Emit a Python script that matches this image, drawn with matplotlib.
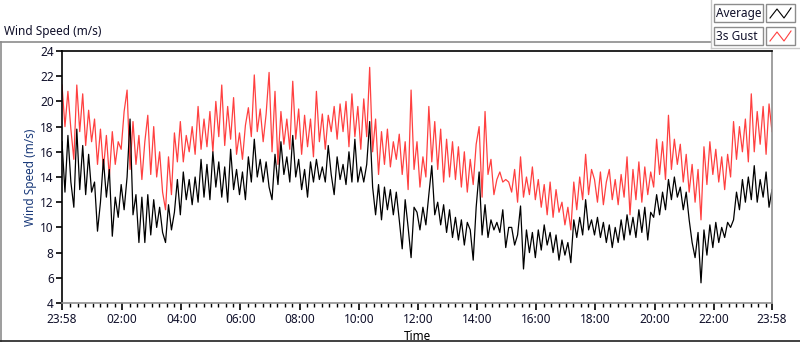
import numpy as np
import matplotlib
matplotlib.use("Agg")
from matplotlib import pyplot as plt
from matplotlib.patches import Rectangle
from matplotlib.lines import Line2D

# values, one every 6 minutes from 23:58
STEP_MIN = 6

gust = [
    21.3, 18.0, 20.8, 17.8, 15.4, 21.3, 17.6, 20.6, 16.5, 19.3, 16.8, 18.6, 15.0, 17.8, 14.6, 17.3, 14.0, 17.6, 15.0, 16.8,
    16.2, 19.2, 20.9, 14.6, 18.4, 15.0, 17.3, 13.8, 16.8, 18.9, 14.2, 18.0, 14.0, 16.0, 12.8, 11.4, 15.6, 12.6, 17.5, 15.2,
    18.4, 15.2, 17.3, 16.0, 18.0, 15.8, 19.6, 16.2, 18.6, 16.4, 19.2, 16.0, 20.0, 17.2, 21.3, 16.5, 19.6, 17.0, 20.3, 15.8,
    17.5, 15.4, 18.1, 19.5, 17.2, 22.1, 17.6, 19.4, 16.8, 19.0, 22.3, 16.0, 20.8, 15.0, 19.2, 16.6, 18.6, 16.2, 21.6, 17.0,
    19.4, 15.8, 18.9, 16.4, 18.6, 15.6, 20.8, 16.8, 19.0, 16.2, 18.9, 17.6, 19.6, 17.0, 19.8, 17.6, 20.0, 16.4, 20.6, 17.2,
    19.6, 16.2, 20.2, 17.2, 22.7, 16.0, 18.6, 14.2, 17.6, 15.0, 17.8, 14.8, 16.8, 15.4, 17.4, 14.2, 16.8, 13.0, 20.9, 14.6,
    16.8, 13.2, 15.6, 14.0, 19.6, 15.2, 18.4, 14.6, 17.8, 13.6, 17.0, 14.0, 16.8, 13.8, 16.4, 13.2, 16.0, 12.8, 15.4, 13.4,
    16.6, 18.0, 12.4, 19.2, 14.2, 15.4, 12.6, 13.8, 14.4, 13.6, 13.8, 13.6, 12.8, 14.6, 12.0, 15.6, 12.4, 14.0, 12.6, 14.8,
    12.2, 13.8, 11.6, 13.4, 11.0, 13.6, 10.8, 13.0, 11.2, 12.0, 10.2, 11.6, 9.8, 13.6, 11.4, 14.0, 12.2, 15.8, 12.6, 14.6,
    13.8, 12.0, 14.4, 11.8, 13.6, 14.6, 12.2, 13.8, 11.8, 14.2, 12.4, 15.6, 11.0, 14.6, 12.2, 15.2, 12.0, 14.8, 12.6, 14.4,
    13.2, 17.0, 14.2, 16.8, 13.8, 18.9, 14.6, 17.0, 15.0, 16.6, 13.6, 15.8, 12.8, 15.0, 12.0, 14.6, 10.6, 16.4, 13.4, 16.8,
    14.2, 16.2, 13.6, 15.6, 13.0, 15.8, 14.0, 18.4, 15.4, 18.0, 16.0, 18.6, 15.2, 20.6, 16.0, 19.2, 16.6, 19.6, 15.8, 19.8, 17.6,
]

average = [
    16.8, 12.8, 17.3, 13.6, 11.6, 17.8, 13.0, 16.5, 12.6, 15.8, 12.8, 13.6, 9.7, 12.0, 15.4, 12.4, 14.6, 9.3, 12.4, 10.8,
    13.4, 11.4, 14.0, 18.6, 11.0, 12.6, 8.8, 12.4, 8.8, 12.6, 9.4, 12.2, 10.0, 11.6, 9.6, 8.8, 11.8, 9.8, 11.2, 13.8,
    11.0, 14.4, 12.2, 13.8, 11.8, 14.0, 12.0, 15.4, 12.4, 15.0, 12.2, 16.0, 13.2, 15.2, 12.4, 14.8, 12.0, 16.2, 13.0, 14.6,
    12.6, 14.4, 12.2, 15.6, 13.6, 17.0, 14.0, 15.4, 13.6, 15.2, 13.2, 12.2, 15.8, 13.4, 16.8, 14.2, 15.6, 13.6, 17.3, 14.0,
    15.4, 13.0, 14.6, 12.4, 15.2, 13.6, 15.4, 13.8, 14.8, 13.6, 16.5, 14.2, 12.6, 15.6, 13.8, 15.0, 13.4, 16.0, 13.6, 17.0,
    13.6, 14.8, 13.6, 15.0, 18.4, 13.2, 11.0, 13.4, 10.6, 13.2, 11.4, 13.0, 11.0, 12.8, 10.6, 8.3, 12.2, 10.0, 7.6, 11.6,
    11.2, 9.8, 11.6, 10.2, 12.6, 14.9, 11.0, 12.0, 10.2, 11.8, 9.6, 11.4, 9.2, 10.8, 9.0, 10.6, 8.6, 10.4, 9.8, 7.4,
    11.6, 14.4, 9.4, 11.8, 9.2, 10.6, 9.8, 10.4, 9.6, 11.4, 8.4, 10.0, 10.0, 8.6, 9.4, 11.7, 6.7, 9.8, 8.0, 9.6,
    7.6, 9.8, 8.2, 10.2, 8.6, 9.6, 8.0, 9.4, 7.4, 9.0, 7.8, 8.8, 7.2, 10.6, 9.2, 10.8, 9.4, 12.2, 9.8, 10.6,
    9.4, 10.8, 9.2, 10.4, 8.8, 10.2, 8.4, 10.0, 8.8, 10.6, 9.0, 11.0, 9.4, 10.8, 9.2, 11.4, 9.6, 11.6, 9.0, 11.2,
    10.8, 12.6, 11.0, 12.8, 11.4, 13.8, 12.2, 14.0, 12.4, 13.2, 11.4, 12.8, 10.6, 8.8, 7.6, 9.6, 5.6, 9.8, 7.8, 10.2,
    8.4, 10.4, 8.8, 10.0, 9.2, 10.4, 10.0, 10.6, 12.8, 11.4, 13.8, 12.0, 14.0, 12.2, 14.9, 12.0, 13.8, 12.4, 14.4, 11.6, 13.0,
]

tick_minutes = [0, 122, 242, 362, 482, 602, 722, 842, 962, 1082, 1202, 1322, 1440]
tick_labels = ["23:58", "02:00", "04:00", "06:00", "08:00", "10:00", "12:00",
               "14:00", "16:00", "18:00", "20:00", "22:00", "23:58"]
series_names = ["Average", "3s Gust"]
series_colors = ["black", "#ff4040"]

W, H = 800, 342
plt.rcParams["font.family"] = ["Noto Sans", "DejaVu Sans"]
plt.rcParams["font.size"] = 8

fig = plt.figure(figsize=(W / 100, H / 100), dpi=100)


def fx(x):
    return x / W


def fy(y):
    return 1 - y / H


# plot area
ax = fig.add_axes([fx(62), fy(303), fx(772) - fx(62), fy(51) - fy(303)])
t = np.arange(len(gust)) * STEP_MIN
ax.plot(t, gust, color=series_colors[1], lw=0.9)
ax.plot(t, average, color=series_colors[0], lw=0.9)

ax.set_xlim(0, 1440)
ax.set_ylim(4, 24)
ax.set_yticks(np.arange(4, 25, 2))
ax.set_xticks(tick_minutes)
ax.set_xticklabels(tick_labels)
minor = [m for m in range(2, 1440, 15) if min(abs(m - k) for k in tick_minutes) > 5]
ax.set_xticks(minor, minor=True)
ax.tick_params(axis="both", which="major", direction="out", length=4, width=1.2,
               color="black", labelcolor="#10102a", labelsize=8.5, pad=2)
ax.tick_params(axis="x", which="minor", direction="out", length=3, width=1.0, color="black")
ax.tick_params(axis="x", which="major", length=5)

for side in ["top", "left"]:
    ax.spines[side].set_color("black")
    ax.spines[side].set_linewidth(1.2)
for side in ["bottom", "right"]:
    ax.spines[side].set_color("#909090")
    ax.spines[side].set_linewidth(1.2)

ax.set_ylabel("Wind Speed (m/s)", color="#1a3a7a", fontsize=8.5, labelpad=2)
ax.set_xlabel("Time", color="black", fontsize=8.5, labelpad=3)

# outer panel frame and title
gray = "#8c8c8c"
fig.add_artist(Line2D([fx(0), fx(711)], [fy(42), fy(42)], color=gray, lw=1.2))
fig.add_artist(Line2D([fx(1), fx(1)], [fy(42), fy(342)], color=gray, lw=1.2))
fig.add_artist(Line2D([fx(0), fx(800)], [fy(341), fy(341)], color="#202020", lw=1.2))
fig.add_artist(Line2D([fx(711), fx(711)], [fy(0), fy(48)], color="#c8c8c8", lw=1))
fig.add_artist(Line2D([fx(711), fx(800)], [fy(48), fy(48)], color="#c8c8c8", lw=1))
fig.text(fx(4), fy(32), "Wind Speed (m/s)", ha="left", va="center", color="#10102a", fontsize=8.5)

# legend boxes
for i, (name, col) in enumerate(zip(series_names, series_colors)):
    top = 4 + i * 23
    fig.add_artist(Rectangle((fx(714), fy(top + 18)), fx(49), fy(top) - fy(top + 18),
                             transform=fig.transFigure, fill=False, ec=gray, lw=1))
    fig.text(fx(716), fy(top + 9), name, ha="left", va="center", color="#10102a", fontsize=8.5)
    fig.add_artist(Rectangle((fx(766), fy(top + 18)), fx(29), fy(top) - fy(top + 18),
                             transform=fig.transFigure, fill=False, ec=gray, lw=1))
    zx = [770, 777, 784, 791]
    zy = [top + 14, top + 5, top + 14, top + 4]
    fig.add_artist(Line2D([fx(v) for v in zx], [fy(v) for v in zy], color=col, lw=0.8))

fig.savefig("out.png", dpi=100)
